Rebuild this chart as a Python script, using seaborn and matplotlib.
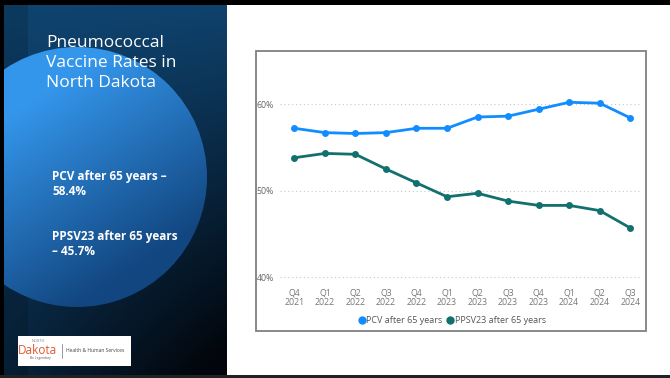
import numpy as np
import pandas as pd
import matplotlib
matplotlib.use('Agg')
import matplotlib.pyplot as plt
from matplotlib.patches import Rectangle, Circle
from matplotlib.lines import Line2D
import seaborn as sns

# data
quarters = ['Q4\n2021', 'Q1\n2022', 'Q2\n2022', 'Q3\n2022', 'Q4\n2022', 'Q1\n2023',
            'Q2\n2023', 'Q3\n2023', 'Q4\n2023', 'Q1\n2024', 'Q2\n2024', 'Q3\n2024']
pcv = [57.2, 56.7, 56.6, 56.7, 57.2, 57.2, 58.5, 58.6, 59.4, 60.2, 60.1, 58.4]
ppsv23 = [53.8, 54.3, 54.2, 52.5, 50.9, 49.3, 49.7, 48.8, 48.3, 48.3, 47.7, 45.7]
series_names = ['PCV after 65 years', 'PPSV23 after 65 years']
series_colors = ['#118DFF', '#12706F']
y_ticks = [40, 50, 60]

title_text = 'Pneumococcal\nVaccine Rates in\nNorth Dakota'
pcv_text = 'PCV after 65 years \u2013\n58.4%'
ppsv_text = 'PPSV23 after 65 years\n\u2013 45.7%'

sns.set_theme(style='white')
plt.rcParams['font.family'] = ['Open Sans', 'DejaVu Sans']

W, H = 670, 378
fig = plt.figure(figsize=(W / 100, H / 100), dpi=100)
fig.patch.set_facecolor('white')

# background layer in pixel coordinates
bg = fig.add_axes([0, 0, 1, 1], zorder=0)
bg.set_xlim(0, W)
bg.set_ylim(H, 0)
bg.axis('off')

# left panel gradient
gx, gy = np.meshgrid(np.linspace(0, 1, 200), np.linspace(0, 1, 300))
t = np.clip(gy * (0.5 + 0.55 * gx) + 0.03 * gx, 0, 1)[..., None]
top = np.array([15, 68, 112]) / 255
bot = np.array([2, 6, 12]) / 255
bg.imshow(top * (1 - t) + bot * t, extent=(4, 227, 375, 5), aspect='auto', zorder=1)
bg.add_patch(Rectangle((4, 5), 24, 370, color='black', alpha=0.15, lw=0, zorder=2))

# big circle
cx, cy, r = 77, 177, 130
circ = Circle((cx, cy), r, transform=bg.transData, facecolor='none', edgecolor='none')
bg.add_patch(circ)
X, Y = np.meshgrid(np.linspace(cx - r, cx + r, 260), np.linspace(cy - r, cy + r, 260))
tc = np.clip(0.45 + ((X - cx) * 0.55 + (Y - cy) * 0.85) / (2 * r) * 1.3, 0, 1)[..., None]
light = np.array([52, 150, 235]) / 255
dark = np.array([18, 70, 128]) / 255
im = bg.imshow(light * (1 - tc) + dark * tc, extent=(cx - r, cx + r, cy + r, cy - r),
               aspect='auto', zorder=3)
im.set_clip_path(circ)

bg.text(46, 35, title_text, color='white', fontsize=12.5, va='top', ha='left',
        linespacing=1.32, zorder=6)
bg.text(52, 170, pcv_text, color='white', fontsize=8.5, fontweight='bold', va='top',
        ha='left', linespacing=1.2, zorder=6)
bg.text(52, 230, ppsv_text, color='white', fontsize=8.5, fontweight='bold', va='top',
        ha='left', linespacing=1.2, zorder=6)

# logo box
bg.add_patch(Rectangle((18, 336), 113, 30, color='white', lw=0, zorder=6))
bg.text(38, 340.5, 'NORTH', fontsize=2.8, color='#888888', ha='center', va='center', zorder=7)
bg.text(37.5, 350.5, 'Dakota', fontsize=8.5, color='#E0592E', ha='center', va='center', zorder=7)
bg.text(40, 358.5, 'Be Legendary', fontsize=2.3, color='#555555', ha='center', va='center', zorder=7)
bg.add_line(Line2D([61.5, 61.5], [344, 358], color='#888888', lw=0.6, zorder=7))
bg.text(66, 351, 'Health & Human Services', fontsize=3.6, color='#444444', ha='left',
        va='center', zorder=7)

# chart frame
bg.add_patch(Rectangle((256, 51), 390, 280, fill=False, edgecolor='#808080', lw=1.3, zorder=5))

# slide border
bg.add_patch(Rectangle((0, 0), W, 5, color='black', lw=0, zorder=8))
bg.add_patch(Rectangle((0, 0), 4, H, color='black', lw=0, zorder=8))
bg.add_patch(Rectangle((0, 374.5), W, 3.5, color='#222222', lw=0, zorder=8))

# line chart
ax = fig.add_axes([280 / W, (H - 286) / H, 360 / W, (286 - 60.7) / H], zorder=2)
ax.patch.set_alpha(0)
idx = list(range(len(quarters)))
df = pd.DataFrame({
    'idx': idx * 2,
    'rate': pcv + ppsv23,
    'series': [series_names[0]] * len(pcv) + [series_names[1]] * len(ppsv23),
})
sns.lineplot(data=df, x='idx', y='rate', hue='series',
             palette=dict(zip(series_names, series_colors)),
             marker='o', markersize=5, markeredgewidth=0, linewidth=2.0,
             legend=False, ax=ax)

ax.set_xlim(-0.47, 11.32)
ax.set_ylim(39, 65)
ax.set_yticks(y_ticks)
ax.set_yticklabels([f'{v}%' for v in y_ticks])
ax.set_xticks(idx)
ax.set_xticklabels(quarters)
ax.tick_params(axis='y', length=0, pad=4.3, labelsize=6.3, labelcolor='#666666')
ax.tick_params(axis='x', length=0, pad=1.5, labelsize=6.3, labelcolor='#777777')
for lab in ax.get_xticklabels():
    lab.set_linespacing(1.1)
ax.set_xlabel('')
ax.set_ylabel('')
ax.yaxis.grid(True, linestyle=(0, (1, 2.5)), color='#c8c8c8', lw=0.8)
ax.xaxis.grid(False)
for s in ax.spines.values():
    s.set_visible(False)

handles = [Line2D([], [], marker='o', ls='', color=c, markersize=5) for c in series_colors]
fig.legend(handles, series_names, loc='center', bbox_to_anchor=(452 / W, 1 - 320.7 / H),
           ncol=2, frameon=False, fontsize=6.5, handletextpad=0.1, columnspacing=0.5,
           handlelength=0.8, labelcolor='#555555')

fig.savefig('out.png', dpi=100)
